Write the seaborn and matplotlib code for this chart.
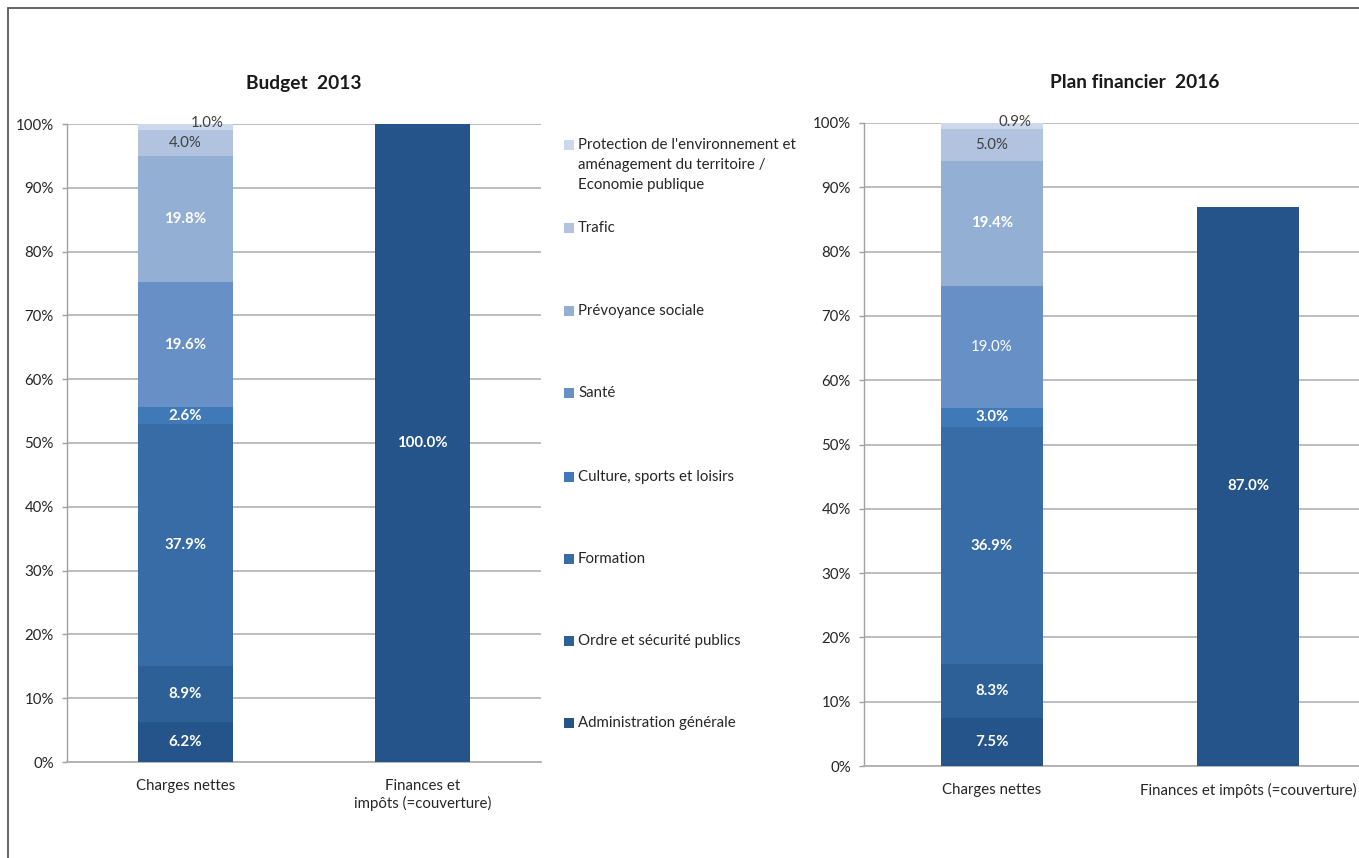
import matplotlib
matplotlib.use("Agg")
import matplotlib.pyplot as plt
from matplotlib.patches import Rectangle
from matplotlib.lines import Line2D
from matplotlib.ticker import PercentFormatter
import numpy as np
import pandas as pd
import seaborn as sns

# ---- data ----------------------------------------------------------------
domains = [
    "Administration générale",
    "Ordre et sécurité publics",
    "Formation",
    "Culture, sports et loisirs",
    "Santé",
    "Prévoyance sociale",
    "Trafic",
    "Protection de l'environnement et\naménagement du territoire /\nEconomie publique",
]
charges_2013 = [6.2, 8.9, 37.9, 2.6, 19.6, 19.8, 4.0, 1.0]
charges_2016 = [7.5, 8.3, 36.9, 3.0, 19.0, 19.4, 5.0, 0.9]
finances_2013 = 100.0
finances_2016 = 87.0

cat_charges = "Charges nettes"
cat_fin_2013 = "Finances et\nimpôts (=couverture)"
cat_fin_2016 = "Finances et impôts (=couverture)"

titles = ["Budget  2013", "Plan financier  2016"]
yticks = [0, 10, 20, 30, 40, 50, 60, 70, 80, 90, 100]

colors = ["#24548A", "#2E6098", "#386CA6", "#3F79B8",
          "#6790C6", "#93AFD4", "#B2C3E0", "#CCD8EB"]

# ---- style ---------------------------------------------------------------
sns.set_theme(style="white")
plt.rcParams["font.family"] = ["Lato", "DejaVu Sans"]
FS = 10.8
plt.rcParams["font.size"] = FS

W, H = 1359, 858
fig = plt.figure(figsize=(W / 100, H / 100), dpi=100)


def px_axes(x0, x1, ytop, ybot):
    return fig.add_axes([x0 / W, 1 - ybot / H, (x1 - x0) / W, (ybot - ytop) / H])


def draw_panel(ax, values, fin_value, fin_label, xmax, white_plain):
    order = [cat_charges, fin_label]
    cum = np.cumsum(values)
    # stacked column: draw cumulative totals from the top down so each
    # lower segment covers the one above it
    for k in range(len(values) - 1, -1, -1):
        df = pd.DataFrame({"cat": [cat_charges], "val": [cum[k]]})
        sns.barplot(data=df, x="cat", y="val", order=order, color=colors[k],
                    saturation=1, width=0.4, ax=ax, linewidth=0, zorder=3)
    df = pd.DataFrame({"cat": [fin_label], "val": [fin_value]})
    sns.barplot(data=df, x="cat", y="val", order=order, color=colors[0],
                saturation=1, width=0.4, ax=ax, linewidth=0, zorder=3)

    # segment labels
    bottoms = cum - np.array(values)
    for k, v in enumerate(values):
        yc = bottoms[k] + v / 2
        if k >= 6:
            xoff = 0.09 if k == 7 else 0.0
            ax.text(0 + xoff, yc + (0.6 if k == 7 else 0), f"{v:.1f}%",
                    ha="center", va="center", color="#404040", fontsize=FS,
                    zorder=5)
        else:
            ax.text(0, yc, f"{v:.1f}%", ha="center", va="center",
                    color="white", fontsize=FS,
                    fontweight="normal" if k in white_plain else "bold",
                    zorder=5)
    ax.text(1, fin_value / 2, f"{fin_value:.1f}%", ha="center", va="center",
            color="white", fontsize=FS, fontweight="bold", zorder=5)

    ax.set_ylim(0, 100)
    ax.set_xlim(-0.5, xmax)
    ax.set_yticks(yticks)
    ax.yaxis.set_major_formatter(PercentFormatter(decimals=0))
    ax.set_xlabel("")
    ax.set_ylabel("")
    ax.grid(axis="y", color="#B8B8B8", linewidth=1.3, zorder=0)
    ax.set_axisbelow(True)
    for s in ["top", "right"]:
        ax.spines[s].set_visible(False)
    ax.spines["left"].set_color("#A0A0A0")
    ax.spines["left"].set_linewidth(1.0)
    ax.spines["bottom"].set_color("#B0B0B0")
    ax.spines["bottom"].set_linewidth(1.3)
    ax.tick_params(axis="y", left=True, length=3.6, width=1.0, color="#A0A0A0",
                   labelsize=FS, labelcolor="#262626", pad=6)
    ax.tick_params(axis="x", bottom=False, labelsize=FS, labelcolor="#262626",
                   pad=6)
    for lab in ax.get_xticklabels():
        lab.set_linespacing(1.25)


ax1 = px_axes(67, 541, 124, 762)
draw_panel(ax1, charges_2013, finances_2013, cat_fin_2013, 1.5, [])

ax2 = px_axes(864, 1359, 123, 766)
draw_panel(ax2, charges_2016, finances_2016, cat_fin_2016, 1.5 - 17 / 256, [4])

fig.text(304 / W, 1 - 83 / H, titles[0], ha="center", va="center",
         fontsize=13.8, fontweight="bold", color="#1a1a1a")
fig.text(1135 / W, 1 - 83 / H, titles[1], ha="center", va="center",
         fontsize=13.8, fontweight="bold", color="#1a1a1a")

# ---- legend (top entry first, as in the stack) ---------------------------
legend_y = [723, 641, 559, 477, 393, 311, 228, 145]
line_step = 20
sq = 10
for k, name in enumerate(domains):
    y = legend_y[k]
    fig.add_artist(Rectangle((564 / W, 1 - (y + sq / 2) / H), sq / W, sq / H,
                             transform=fig.transFigure, facecolor=colors[k],
                             edgecolor="none"))
    for i, line in enumerate(name.split("\n")):
        fig.text(578 / W, 1 - (y + i * line_step) / H, line, ha="left",
                 va="center", fontsize=FS, color="#262626")

# ---- chart frame ---------------------------------------------------------
fig.add_artist(Line2D([8 / W, 8 / W], [0, 1 - 8 / H], transform=fig.transFigure,
                      color="#595959", linewidth=1.3))
fig.add_artist(Line2D([8 / W, 1], [1 - 8 / H, 1 - 8 / H], transform=fig.transFigure,
                      color="#595959", linewidth=1.3))

fig.savefig("out.png", dpi=100)
